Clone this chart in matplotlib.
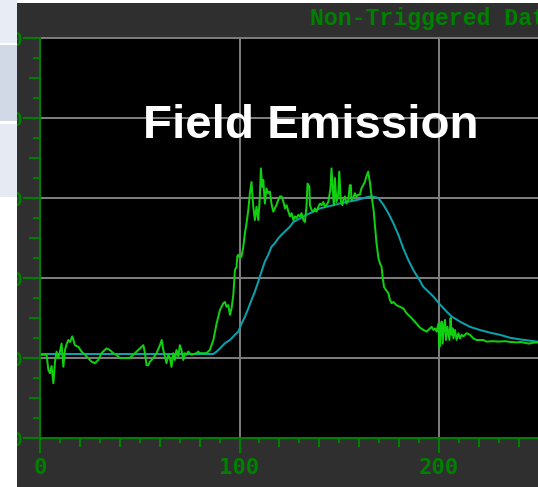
import numpy as np
import matplotlib
matplotlib.use("Agg")
import matplotlib.pyplot as plt
from matplotlib.patches import Rectangle

# ---------------- data ----------------
green_x = [0, 3.3, 4.2, 5, 5.8, 6.7, 7.5, 8.3, 9.2, 10, 10.8, 11.7, 12.5, 13.3, 14.2, 15, 16.2,
           17.5, 19.2, 20.8, 21.7, 23.3, 25.8, 27.5, 29.2, 30.8, 33.3, 35, 36.7, 38.3, 40, 43.3,
           45, 46.7, 50.1, 51.8, 52.6, 53.4, 54.3, 55.1, 56.8, 58.4, 60.1, 61, 61.8, 62.6, 63.4,
           64.3, 65.1, 65.9, 66.8, 67.6, 68.4, 69.3, 70.1, 70.9, 71.8, 72.6, 73.4, 74.3, 75.1,
           75.9, 78.4, 79.3, 80.1, 83.4, 84.3, 85.1, 86.9, 87.7, 88.5, 89.4, 90.2, 91, 91.9,
           92.7, 93.5, 94.4, 95.2, 96, 96.9, 97.7, 98.5, 98.9, 99.4, 100.2, 101, 101.9, 102.7,
           103.5, 104.4, 105.2, 106, 106.9, 107.7, 108.5, 109.4, 110.2, 110.7, 111.4, 111.9,
           112.7, 113.5, 114.4, 115.2, 116, 116.9, 117.7, 118.5, 119.4, 120.3, 121.1, 122,
           122.8, 123.6, 124.5, 125.3, 126.1, 127, 127.8, 128.6, 129.5, 130.3, 131.1, 132,
           132.8, 133.6, 134.1, 135, 135.3, 136.1, 137, 137.8, 138.6, 139.5, 140.3, 141.1, 142,
           142.8, 143.6, 144.5, 145.3, 145.6, 146.1, 146.6, 147, 147.3, 147.8, 148.6, 149.5,
           150, 150.8, 151.6, 152, 152.8, 153.6, 154.5, 155.3, 155.8, 156.1, 157, 157.8, 158.6,
           159.5, 160.3, 161.1, 162, 162.8, 163.6, 164.5, 165.3, 166.2, 167.2, 168, 168.6,
           169.6, 170.4, 171.2, 171.7, 172.4, 173.4, 174.6, 175.4, 176.2, 177.1, 178.7, 180.4,
           182.1, 183.7, 185.4, 187.1, 188.7, 190.4, 192.2, 193.8, 195.5, 196.3, 197.2, 198,
           198.8, 199.7, 200.2, 200.8, 201.3, 201.8, 202.5, 203, 203.5, 204.2, 204.7, 205.2,
           205.8, 206.3, 206.8, 207.2, 208, 208.8, 209.7, 210.5, 211.3, 212.2, 213.8, 215.5,
           217.2, 218.8, 220.5, 222.2, 223.8, 227, 230, 233, 236, 239, 241, 243, 245, 247, 249.6]
green_y = [1.04, 1.04, 0.85, 0.81, 0.9, 0.685, 0.95, 1.08, 1.0, 1.08, 1.18, 0.89, 1.1, 1.17, 1.225,
           1.2, 1.27, 1.16, 1.14, 1.08, 1.06, 1.02, 0.955, 0.935, 0.975, 1.06, 1.12, 1.1, 1.06,
           1.04, 1.0, 1.0, 1.0, 1.04, 1.12, 1.16, 1.06, 0.91, 0.91, 0.955, 1.0, 1.06, 1.16,
           1.225, 1.1, 1.02, 0.935, 1.04, 1.0, 0.89, 1.06, 0.975, 1.1, 1.02, 1.16, 1.1, 0.975,
           1.06, 1.04, 1.08, 1.06, 1.04, 1.06, 1.08, 1.06, 1.06, 1.08, 1.1, 1.225, 1.33, 1.43,
           1.52, 1.60, 1.64, 1.685, 1.70, 1.64, 1.66, 1.54, 1.62, 1.79, 2.10, 2.14, 2.27, 2.29,
           2.25, 2.27, 2.39, 2.56, 2.68, 2.85, 3.06, 3.2, 2.89, 2.725, 2.89, 2.725, 3.02, 3.37,
           3.14, 3.225, 2.93, 3.12, 3.06, 3.08, 2.93, 2.83, 2.87, 2.91, 2.975, 3.02, 3.02, 2.95,
           2.87, 2.91, 2.83, 2.77, 2.81, 2.725, 2.77, 2.75, 2.79, 2.77, 2.81, 2.725, 2.70, 2.91,
           3.18, 3.14, 2.91, 2.85, 2.83, 2.87, 2.83, 2.89, 2.93, 2.91, 2.95, 2.89, 2.91, 2.95,
           3.08, 3.12, 3.37, 3.16, 3.0, 2.91, 3.25, 2.95, 3.04, 3.33, 2.95, 2.91, 2.975, 3.02,
           2.93, 2.975, 3.16, 3.16, 2.975, 3.0, 3.06, 3.02, 3.04, 3.04, 3.12, 3.16, 3.2, 3.27,
           3.33, 3.2, 3.02, 2.85, 2.62, 2.45, 2.25, 2.18, 2.14, 2.02, 1.89, 1.85, 1.81, 1.725,
           1.685, 1.70, 1.66, 1.64, 1.62, 1.56, 1.52, 1.475, 1.43, 1.38, 1.35, 1.33, 1.37, 1.39,
           1.35, 1.37, 1.33, 1.43, 1.14, 1.35, 1.455, 1.18, 1.41, 1.475, 1.225, 1.39, 1.31,
           1.225, 1.5, 1.29, 1.37, 1.245, 1.35, 1.225, 1.31, 1.245, 1.29, 1.27, 1.31, 1.29,
           1.245, 1.225, 1.225, 1.225, 1.205, 1.21, 1.205, 1.21, 1.2, 1.195, 1.2, 1.19, 1.18,
           1.19, 1.195]

cyan_x = [0, 86.9, 88.5, 90.2, 92.7, 95.2, 97.7, 99.4, 101, 102.7, 104.4, 106, 107.7, 109.4, 111,
          112.7, 114.4, 116, 117.7, 119.4, 121, 122.7, 125.2, 127, 130.3, 133.6, 137, 140.3,
          143.6, 147, 150, 153.6, 157, 160.4, 163.7, 166, 168, 169.6, 172.1, 174.6, 177.1,
          179.6, 182.1, 184.6, 187.1, 189.6, 192.1, 194.6, 197.1, 199.7, 203.8, 206.3, 210.5,
          215.5, 220.5, 225.5, 230.5, 235.5, 240.5, 245.5, 249.6]
cyan_y = [1.05, 1.05, 1.08, 1.12, 1.185, 1.225, 1.29, 1.33, 1.43, 1.515, 1.62, 1.725, 1.83, 1.955,
          2.08, 2.205, 2.29, 2.39, 2.435, 2.495, 2.54, 2.58, 2.64, 2.7, 2.745, 2.79, 2.83, 2.87,
          2.89, 2.91, 2.93, 2.95, 2.965, 2.985, 3.01, 3.02, 3.01, 3.0, 2.915, 2.81, 2.685, 2.54,
          2.37, 2.225, 2.1, 2.0, 1.89, 1.83, 1.77, 1.69, 1.58, 1.52, 1.454, 1.39, 1.35, 1.317,
          1.29, 1.254, 1.233, 1.217, 1.204]

x_major = [0, 100, 200]
x_labels = ["0", "100", "200"]
y_major = [0, 1, 2, 3, 4, 5]
title_text = "Non-Triggered Data"
overlay_text = "Field Emission"

# ---------------- layout ----------------
W, H = 538, 487
DPI = 100
PT = 72 / DPI  # points per pixel
fig = plt.figure(figsize=(W / DPI, H / DPI), dpi=DPI, facecolor="white")

AX_GREEN = "#008000"
PANEL = "#2f2f2f"
GRID = "#7c7c7c"

# dark scope panel
fig.add_artist(Rectangle((17 / W, 0), 1 - 17 / W, (H - 3) / H, transform=fig.transFigure,
                         facecolor=PANEL, edgecolor="none", zorder=-5))

ax = fig.add_axes([40 / W, (H - 438) / H, 498 / W, 400 / H])
ax.set_facecolor("black")
ax.set_xlim(0, 249.6)
ax.set_ylim(0, 5)

ax.plot(cyan_x, cyan_y, color="#0aa3ad", lw=2.0 * PT, zorder=3)
ax.plot(green_x, green_y, color="#10d010", lw=2.0 * PT, zorder=4)

ax.spines["right"].set_visible(False)
ax.spines["top"].set_color(GRID)
ax.spines["top"].set_linewidth(2 * PT)
for s in ["left", "bottom"]:
    ax.spines[s].set_color(AX_GREEN)
    ax.spines[s].set_linewidth(2 * PT)
    ax.spines[s].set_zorder(5)

ax.set_xticks(x_major)
ax.set_xticklabels(x_labels)
ax.set_xticks(np.arange(0, 250, 10), minor=True)
ax.set_yticks(y_major)
ax.set_yticklabels(["0"] * len(y_major))
ax.set_yticks(np.arange(0, 5.01, 0.25), minor=True)

ax.grid(True, which="major", color=GRID, lw=2 * PT)
ax.tick_params(axis="x", which="major", length=15 * PT, width=2 * PT, color=AX_GREEN,
               labelcolor=AX_GREEN, pad=5 * PT, labelsize=16)
ax.tick_params(axis="x", which="minor", length=5 * PT, width=2 * PT, color=AX_GREEN)
ax.tick_params(axis="y", which="major", length=17 * PT, width=2 * PT, color=AX_GREEN,
               labelcolor=AX_GREEN, pad=0, labelsize=14)
ax.tick_params(axis="y", which="minor", length=7 * PT, width=2 * PT, color=AX_GREEN)
for lab in ax.get_xticklabels() + ax.get_yticklabels():
    lab.set_fontfamily("DejaVu Sans Mono")
    lab.set_fontweight("bold")

# longer intermediate ticks
secx = ax.secondary_xaxis("bottom")
secx.set_xticks([v for v in np.arange(20, 250, 20) if v % 100 != 0])
secx.set_xticklabels([])
secx.tick_params(length=9 * PT, width=2 * PT, color=AX_GREEN)
secx.spines["bottom"].set_visible(False)

secy = ax.secondary_yaxis("left")
secy.set_yticks(np.arange(0.5, 5, 1.0))
secy.set_yticklabels([])
secy.tick_params(length=11 * PT, width=2 * PT, color=AX_GREEN)
secy.spines["left"].set_visible(False)

# texts
fig.text(310 / W, 1 - 25 / H, title_text, color=AX_GREEN, fontsize=16.7,
         family="Liberation Mono", weight="bold", va="baseline", ha="left")
fig.text(143 / W, 1 - 138 / H, overlay_text, color="white", fontsize=34.2,
         family="Liberation Sans", weight="bold", va="baseline", ha="left")

# slide background strip on the left
fig.add_artist(Rectangle((0, 0), 17 / W, 1, transform=fig.transFigure,
                         facecolor="white", edgecolor="none", zorder=10))
for (y0, y1, c) in [(0, 43, "#e8ecf5"), (45, 121, "#d2d9e6"), (124, 197, "#e6eaf3")]:
    fig.add_artist(Rectangle((0, 1 - y1 / H), 17 / W, (y1 - y0) / H,
                             transform=fig.transFigure, facecolor=c, edgecolor="none",
                             zorder=11))

fig.savefig("out.png", dpi=DPI, facecolor="white")
